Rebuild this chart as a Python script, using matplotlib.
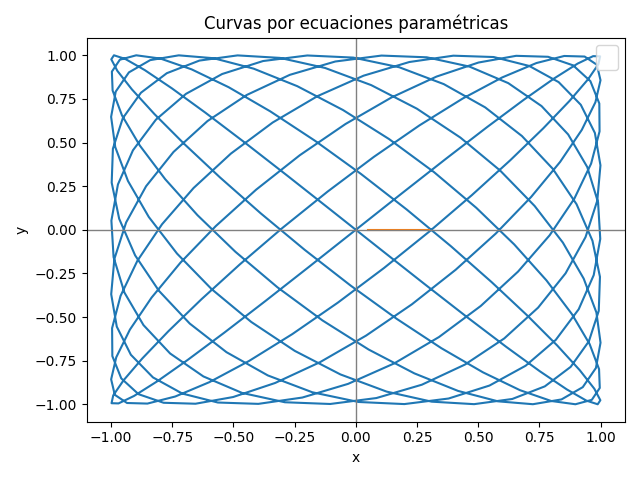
import numpy as np
import matplotlib
matplotlib.use("Agg")
import matplotlib.pyplot as plt

# parametric curve definition
freq_x = 9
freq_y = 10
n_points = 300
t = np.linspace(0, 2*np.pi, n_points)
x = np.sin(freq_x * t)
y = np.sin(freq_y * t)

orange_x = [0.05, 0.3]
orange_y = [0.0, 0.0]

fig, ax = plt.subplots(figsize=(6.4, 4.8), dpi=100)
ax.plot(x, y)
ax.plot(orange_x, orange_y)
ax.axhline(0, color='gray', lw=1)
ax.axvline(0, color='gray', lw=1)
ax.set_title("Curvas por ecuaciones paramétricas")
ax.set_xlabel("x")
ax.set_ylabel("y")
ax.legend([], [], loc='upper right')
ax.legend(handles=[plt.Line2D([], [], alpha=0)], labels=[""], loc='upper right', handlelength=0)
fig.tight_layout()
fig.savefig("out.png")
